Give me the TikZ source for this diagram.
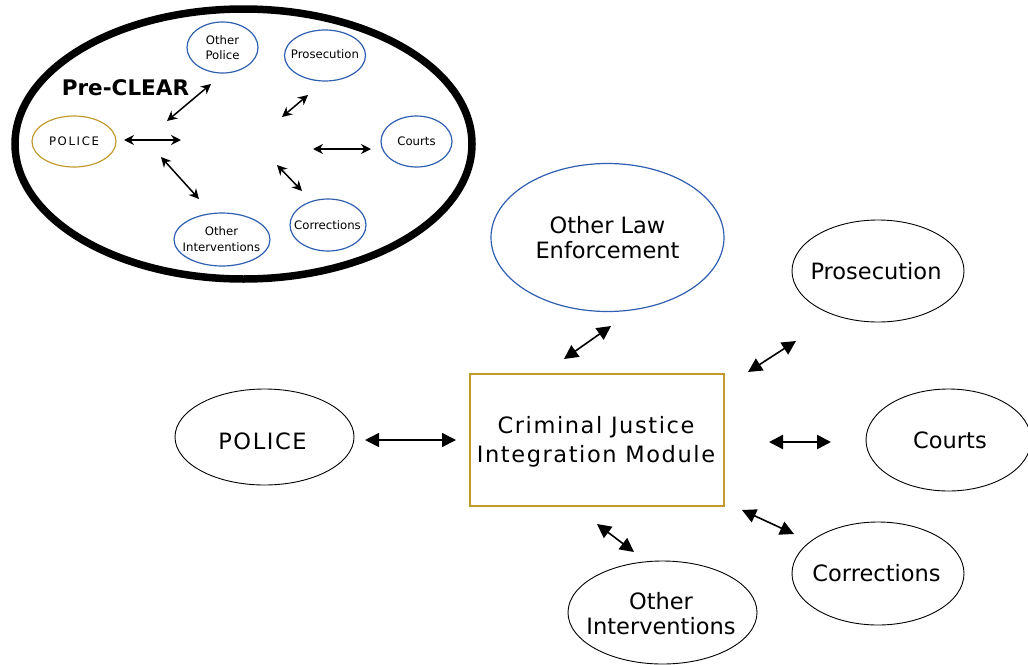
\documentclass[tikz,border=0pt]{standalone}
\usepackage{fontspec}
\setmainfont{DejaVu Sans}
\usetikzlibrary{shapes.geometric,arrows.meta}
\definecolor{blueline}{RGB}{47,95,176}
\definecolor{goldline}{RGB}{194,154,46}
\tikzset{
  oval/.style={ellipse,draw=black,line width=0.9pt,inner sep=0pt,align=center,text=black},
  bigtext/.style={font=\fontsize{22.5}{25}\selectfont},
  smalltext/.style={font=\fontsize{11.7}{15.5}\selectfont},
  blueoval/.style={oval,draw=blueline,line width=1.2pt},
  goldoval/.style={oval,draw=goldline,line width=1.2pt},
  twoway/.style={{Triangle[length=14pt,width=14pt]}-{Triangle[length=14pt,width=14pt]},line width=1.6pt},
  twowaythick/.style={{Triangle[length=14pt,width=14pt]}-{Triangle[length=14pt,width=14pt]},line width=2.4pt},
  smallway/.style={{Stealth[length=10pt,width=10pt]}-{Stealth[length=10pt,width=10pt]},line width=1.5pt},
  smallwaythick/.style={{Stealth[length=10pt,width=10pt]}-{Stealth[length=10pt,width=10pt]},line width=2.3pt},
}
\newfontfamily\spacedbig[LetterSpace=7]{DejaVu Sans}
\newfontfamily\spacedsmall[LetterSpace=14]{DejaVu Sans}
\begin{document}
\begin{tikzpicture}[x=1pt,y=-1pt]
\useasboundingbox (0,0) rectangle (1028,664);
% Pre-CLEAR
\node[ellipse,draw=black,line width=7.5pt,minimum width=457pt,minimum height=270pt,inner sep=0pt] (outer) at (243.5,144) {};
\node[font=\fontsize{21.5}{24}\bfseries\selectfont,inner sep=0pt] (title) at (125.5,88) {Pre-CLEAR};
\node[goldoval,minimum width=84pt,minimum height=51pt,font=\spacedsmall\fontsize{11.7}{15}\selectfont] (spolice) at (74,141.5) {POLICE};
\node[blueoval,smalltext,minimum width=71pt,minimum height=51pt] (sother) at (222.5,47.5) {Other\\Police};
\node[blueoval,minimum width=81pt,minimum height=51pt] (spros) at (325,55.5) {};
\node[smalltext,inner sep=0pt] (sprostext) at (325,54.5) {Prosecution};
\node[blueoval,smalltext,minimum width=71pt,minimum height=51pt] (scourts) at (416.5,141.5) {Courts};
\node[blueoval,minimum width=76pt,minimum height=52pt] (scorr) at (328,225) {};
\node[smalltext,inner sep=0pt] (scorrtext) at (327.5,225) {Corrections};
\node[blueoval,minimum width=96pt,minimum height=53pt] (sinter) at (222,239.5) {};
\node[smalltext,align=center,inner sep=0pt] (sintertext) at (221.5,239) {Other\\Interventions};
\coordinate (a1) at (167,121); \coordinate (a2) at (211,84);
\coordinate (b1) at (124,140); \coordinate (b2) at (181,140);
\coordinate (c1) at (161,157); \coordinate (c2) at (199,199);
\coordinate (d1) at (282,117); \coordinate (d2) at (308,95);
\coordinate (e1) at (313,149); \coordinate (e2) at (371,149);
\coordinate (f1) at (277,165); \coordinate (f2) at (302,191);
\draw[smallway] (a1) -- (a2);
\draw[smallwaythick] (b1) -- (b2);
\draw[smallway] (c1) -- (c2);
\draw[smallway] (d1) -- (d2);
\draw[smallwaythick] (e1) -- (e2);
\draw[smallway] (f1) -- (f2);
% Main diagram
\node[draw=goldline,line width=1.2pt,minimum width=254pt,minimum height=132pt,inner sep=0pt] (box) at (597,440) {};
\node[font=\spacedbig\fontsize{22.5}{29}\selectfont,align=center,inner sep=0pt] (boxtext) at (596,442) {Criminal Justice\\Integration Module};
\node[blueoval,bigtext,minimum width=233pt,minimum height=148pt] (law) at (607.5,237.5) {Other Law\\Enforcement};
\node[oval,minimum width=172pt,minimum height=102pt] (pros) at (878,271) {};
\node[bigtext,inner sep=0pt] (prostext) at (876,271) {Prosecution};
\node[oval,minimum width=165pt,minimum height=102pt] (courts) at (948.5,440) {};
\node[bigtext,inner sep=0pt] (courtstext) at (950,440) {Courts};
\node[oval,minimum width=179pt,minimum height=96pt] (police) at (264.5,437) {};
\node[inner sep=0pt,font=\spacedbig\fontsize{22.5}{25}\selectfont] (policetext) at (262.5,441) {POLICE};
\node[oval,minimum width=172pt,minimum height=103pt] (corr) at (878,573.5) {};
\node[bigtext,inner sep=0pt] (corrtext) at (876.5,573) {Corrections};
\node[oval,minimum width=189pt,minimum height=103pt] (inter) at (662.5,612.5) {};
\node[bigtext,align=center,inner sep=0pt] (intertext) at (661,613.5) {Other\\Interventions};
\coordinate (g1) at (564,359); \coordinate (g2) at (611,326);
\coordinate (h1) at (748,372); \coordinate (h2) at (796,341);
\coordinate (i1) at (769,442); \coordinate (i2) at (831,442);
\coordinate (j1) at (742,510); \coordinate (j2) at (794,534);
\coordinate (k1) at (597,524); \coordinate (k2) at (634,552);
\coordinate (l1) at (365,440); \coordinate (l2) at (456,440);
\draw[twoway] (g1) -- (g2);
\draw[twoway] (h1) -- (h2);
\draw[twowaythick] (i1) -- (i2);
\draw[twoway] (j1) -- (j2);
\draw[twoway] (k1) -- (k2);
\draw[twoway] (l1) -- (l2);
\end{tikzpicture}
\end{document}
